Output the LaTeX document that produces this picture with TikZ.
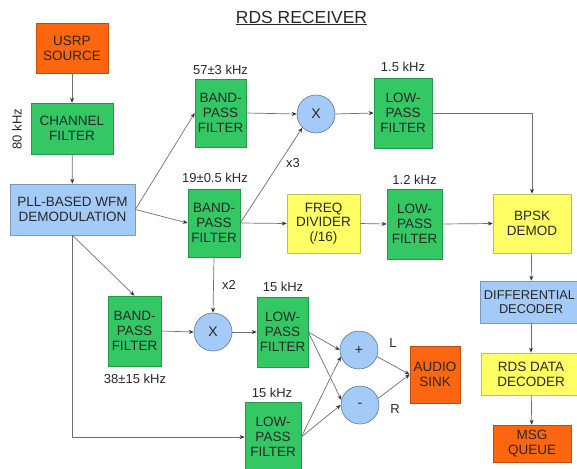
\documentclass[tikz,border=0pt]{standalone}
\usepackage{fontspec}
\setmainfont{Liberation Sans}
\usetikzlibrary{arrows.meta}
\definecolor{cOrange}{RGB}{255,102,16}
\definecolor{cGreen}{RGB}{52,200,100}
\definecolor{cBlue}{RGB}{164,202,248}
\definecolor{cYellow}{RGB}{255,255,102}
\definecolor{cText}{RGB}{40,40,40}
\definecolor{cLine}{RGB}{110,110,110}
\tikzset{
  blk/.style={rectangle, draw=#1!75!black, fill=#1, line width=0.6pt, align=center,
     inner sep=0pt, text=cText, font=\fontsize{13.5}{14.8}\selectfont},
  orangebox/.style={blk=cOrange},
  greenbox/.style={blk=cGreen},
  bluebox/.style={blk=cBlue},
  yellowbox/.style={blk=cYellow},
  mixer/.style={circle, draw=cBlue!60!black, fill=cBlue, line width=0.6pt, minimum size=38pt,
     inner sep=0pt, text=cText, font=\fontsize{14}{15}\selectfont},
  lbl/.style={text=cText, font=\fontsize{13}{14}\selectfont, inner sep=0pt},
  conn/.style={draw=cLine, line width=0.7pt, -{Stealth[length=5pt,width=4pt,color=black!80]}},
}
\begin{document}
\begin{tikzpicture}[x=1pt,y=-1pt]
\useasboundingbox (0,0) rectangle (577,468);
\clip (0,0) rectangle (577,468);
% title
\node[text=cText, font=\fontsize{17.5}{19}\selectfont, inner sep=0pt] (title) at (301.5,18) {\underline{RDS RECEIVER}};
% blocks
\node[orangebox, minimum width=72pt, minimum height=50pt] (usrp) at (72,48) {USRP\\SOURCE};
\node[greenbox, minimum width=82pt, minimum height=51pt] (chan) at (72,128.5) {CHANNEL\\FILTER};
\node[bluebox, minimum width=125pt, minimum height=51pt] (pll) at (72.5,209.5) {PLL-BASED WFM\\DEMODULATION};
\node[greenbox, minimum width=51pt, minimum height=68pt] (bpfa) at (220.5,113) {BAND-\\PASS\\FILTER};
\node[greenbox, minimum width=52pt, minimum height=68pt] (bpfb) at (214,223) {BAND-\\PASS\\FILTER};
\node[mixer] (mula) at (316,114) {X};
\node[greenbox, minimum width=58pt, minimum height=70pt] (lpfa) at (403,113) {LOW-\\PASS\\FILTER};
\node[yellowbox, minimum width=73pt, minimum height=59pt] (freq) at (323.5,223.5) {FREQ\\DIVIDER\\(/16)};
\node[greenbox, minimum width=55pt, minimum height=70pt] (lpfb) at (414.5,224) {LOW-\\PASS\\FILTER};
\node[yellowbox, minimum width=78pt, minimum height=59pt] (bpsk) at (532,223.5) {BPSK\\DEMOD};
\node[bluebox, minimum width=102pt, minimum height=42pt, font=\fontsize{12.8}{14.5}\selectfont] (diff) at (531,302) {\hspace*{-3pt}DIFFERENTIAL\\DECODER};
\node[yellowbox, minimum width=100pt, minimum height=42pt] (rds) at (531,374) {RDS DATA\\DECODER};
\node[orangebox, minimum width=78pt, minimum height=37pt] (msg) at (532,443.5) {MSG\\QUEUE};
\node[greenbox, minimum width=53pt, minimum height=70pt] (bpfc) at (134.5,331) {BAND-\\PASS\\FILTER};
\node[mixer] (mulb) at (213,332) {X};
\node[greenbox, minimum width=51pt, minimum height=70pt] (lpfc) at (282.5,332) {LOW-\\PASS\\FILTER};
\node[greenbox, minimum width=56pt, minimum height=70pt] (lpfd) at (273,437) {LOW-\\PASS\\FILTER};
\node[mixer] (plus) at (359,350) {+};
\node[mixer] (minus) at (360,405) {-};
\node[orangebox, minimum width=50pt, minimum height=57pt] (audio) at (435,374.5) {AUDIO\\SINK};
% labels
\node[lbl, rotate=90] (l80) at (17,129) {80 kHz};
\node[lbl] (l57) at (220.5,70) {57±3 kHz};
\node[lbl] (l19) at (215,178) {19±0.5 kHz};
\node[lbl] (l15a) at (403,67) {1.5 kHz};
\node[lbl] (l12) at (414.5,180) {1.2 kHz};
\node[lbl] (lx3) at (293,163) {x3};
\node[lbl] (lx2) at (229,285) {x2};
\node[lbl] (l15b) at (283,287) {15 kHz};
\node[lbl] (l15c) at (272,393) {15 kHz};
\node[lbl] (l38) at (135,379) {38±15 kHz};
\node[lbl] (lL) at (393,343) {L};
\node[lbl] (lR) at (395,409) {R};
% connectors
\draw[conn] (usrp) -- (chan);
\draw[conn] (chan) -- (pll);
\draw[conn] (pll.east) -- (bpfa.west);
\draw[conn] (pll.east) -- (bpfb.west);
\draw[conn] (pll.south) -- (bpfc.north);
\draw[conn] (pll.south) |- (lpfd.west);
\draw[conn] (bpfa.east) -- (mula.west);
\draw[conn] (bpfb.east) -- (mula.south west);
\draw[conn] (bpfb.east) -- (freq.west);
\draw[conn] (bpfb.south) -- (mulb.north);
\draw[conn] (mula.east) -- (lpfa.west);
\draw[conn] (lpfa.east) -| (bpsk.north);
\draw[conn] (freq.east) -- (lpfb.west);
\draw[conn] (lpfb.east) -- (bpsk.west);
\draw[conn] (bpsk) -- (diff);
\draw[conn] (diff) -- (rds);
\draw[conn] (rds) -- (msg);
\draw[conn] (bpfc.east) -- (mulb.west);
\draw[conn] (mulb.east) -- (lpfc.west);
\draw[conn] (lpfc.east) -- (plus.west);
\draw[conn] (lpfc.east) -- (minus.165);
\draw[conn] (lpfd.east) -- (plus.200);
\draw[conn] (lpfd.east) -- (minus.west);
\draw[conn] (plus.-20) -- (audio.west);
\draw[conn] (minus.20) -- (audio.west);
\end{tikzpicture}
\end{document}
